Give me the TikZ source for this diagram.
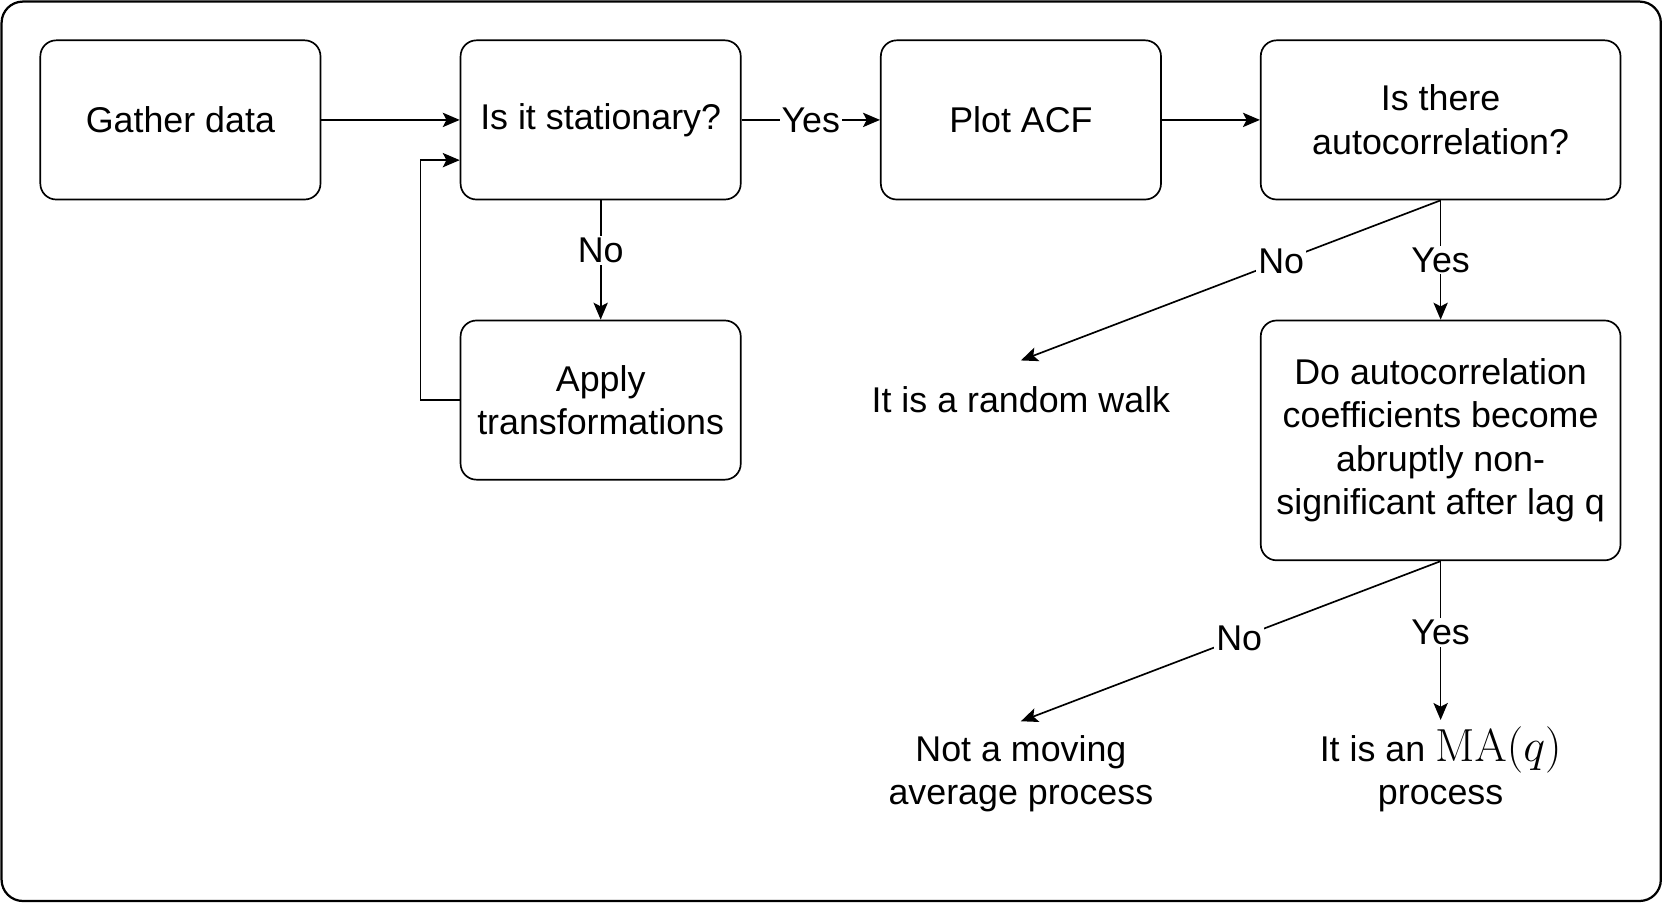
\documentclass[tikz,border=0pt]{standalone}
\usepackage[no-math]{fontspec}
\setmainfont{Liberation Sans}
\usetikzlibrary{arrows.meta,calc}

\begin{document}
\begin{tikzpicture}[
  box/.style={draw=black, line width=0.9pt, rounded corners=0.3cm, align=center, minimum width=5.28cm, minimum height=3cm},
  widebox/.style={box, minimum width=6.78cm},
  endtext/.style={align=center},
  line/.style={black, line width=0.9pt},
  arr/.style={line, -{Stealth[length=0.32cm, width=0.27cm, inset=0.07cm]}},
  lbl/.style={fill=white, inner sep=1pt},
  font=\fontsize{19.2}{23.3}\selectfont
]
\useasboundingbox (0,0) rectangle (31.36,-17.04);
\draw[black, line width=1.2pt, rounded corners=0.4cm] (0.03,-0.03) rectangle (31.3,-16.98);

\node[box] (gather) at (3.4,-2.26) {Gather data};
\node[box] (stat) at (11.32,-2.26) {Is it stationary?};
\node[box] (acf) at (19.24,-2.26) {Plot ACF};
\node[widebox] (autoc) at (27.15,-2.26) {Is there\\autocorrelation?};
\node[box] (apply) at (11.32,-7.54) {Apply\\transformations};
\node[widebox, minimum height=4.52cm] (lagq) at (27.15,-8.3) {Do autocorrelation\\coefficients become\\abruptly non-\\significant after lag q};
\node[endtext, minimum height=1.48cm] (walk) at (19.24,-7.54) {It is a random walk};
\node[endtext, minimum height=1.96cm] (notma) at (19.24,-14.58) {Not a moving\\average process};
\node[endtext, minimum height=1.8cm] (isma) at (27.15,-14.5) {It is an {\fontsize{27}{27}\selectfont$\mathrm{MA}(q)$}\\process};

\draw[arr] (gather) -- (stat);
\draw[arr] (stat) -- node[lbl] {Yes} (acf);
\draw[arr] (acf) -- (autoc);
\draw[arr] (stat) -- node[lbl, pos=0.42] {No} (apply);
\draw[arr] (apply.west) -- ++(-0.74,0) |- ($(stat.west)!0.5!(stat.south west)$);
\draw[arr] (autoc.south) -- node[lbl, pos=0.38] {No} (walk.north);
\draw[arr] (autoc) -- node[lbl] {Yes} (lagq);
\draw[arr] (lagq.south) -- node[lbl, pos=0.48] {No} (notma.north);
\draw[arr] (lagq) -- node[lbl, pos=0.45] {Yes} (isma);
\end{tikzpicture}
\end{document}
